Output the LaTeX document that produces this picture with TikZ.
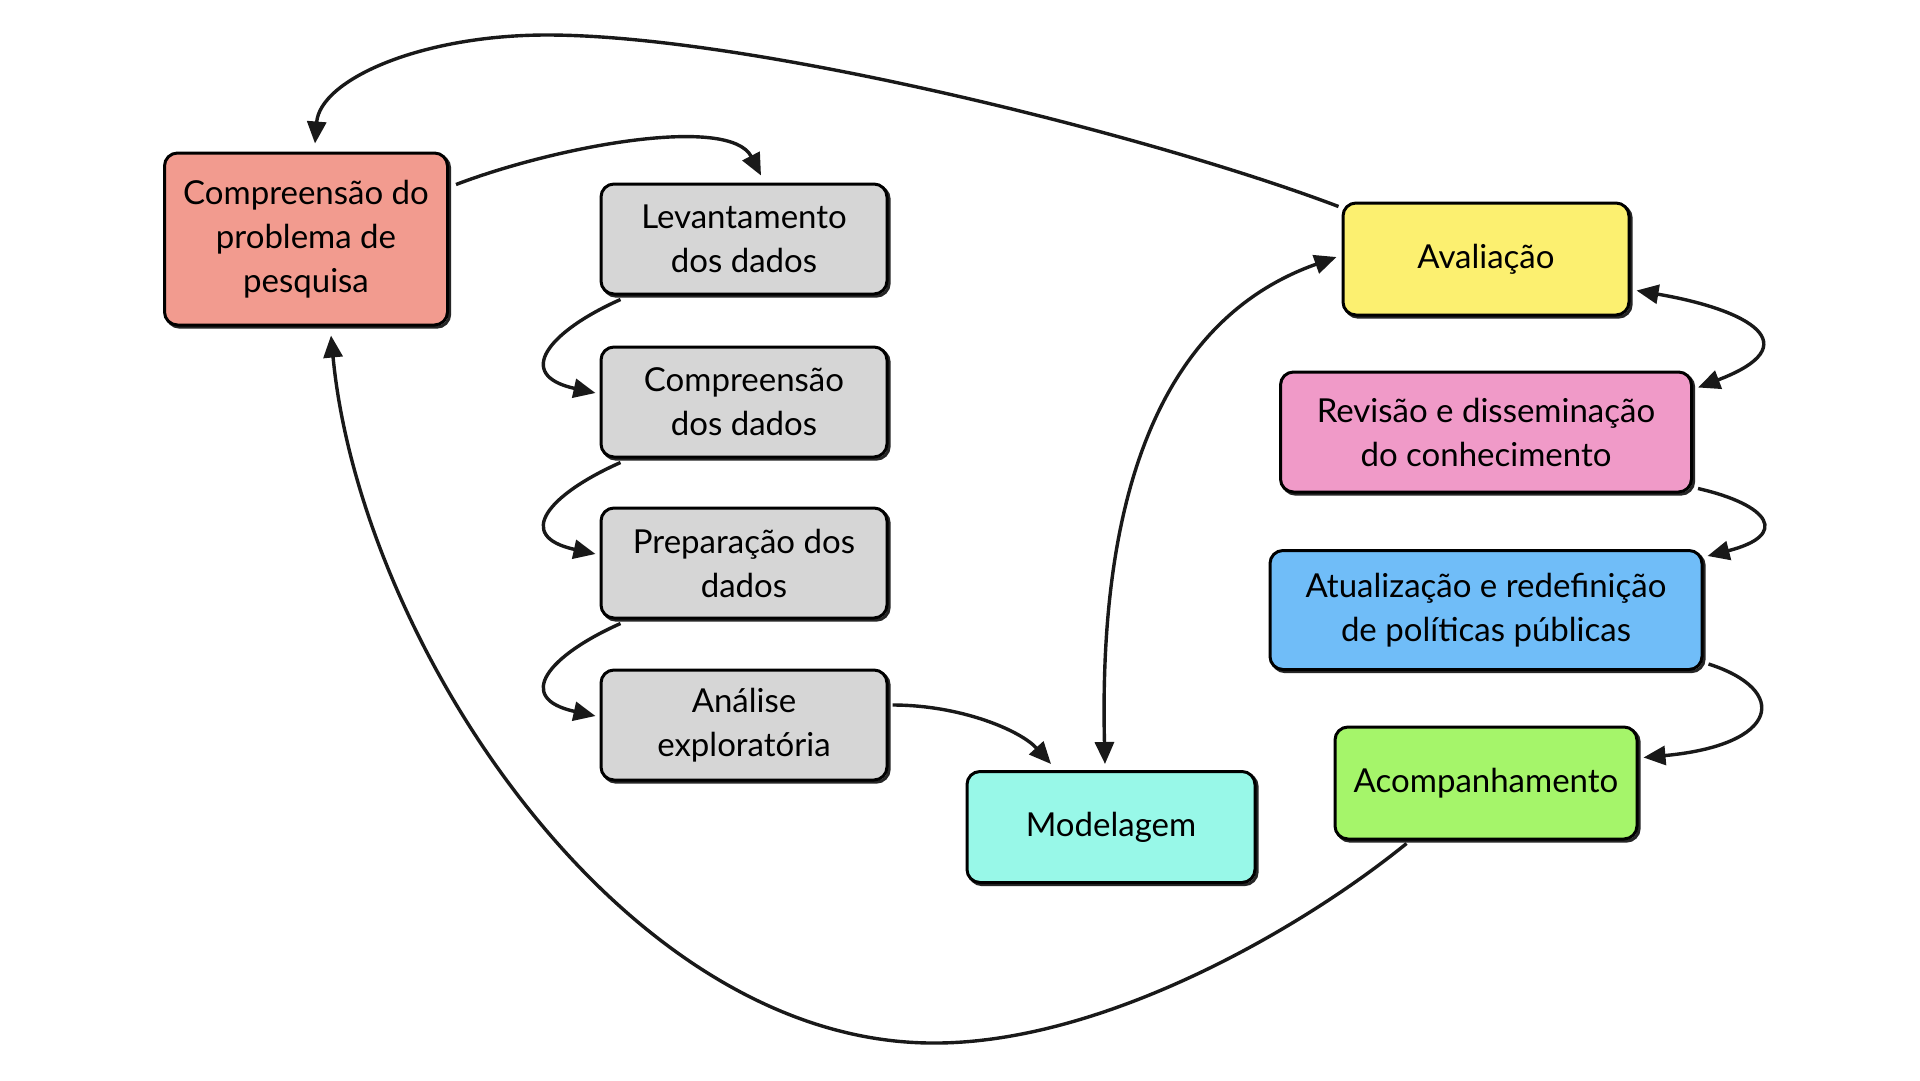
\documentclass[tikz,border=0pt]{standalone}
\usepackage{fontspec}
\setmainfont{Lato}
\usetikzlibrary{arrows.meta,calc}
\definecolor{cred}{HTML}{F29B8F}
\definecolor{cgray}{HTML}{D6D6D6}
\definecolor{cyellow}{HTML}{FCF070}
\definecolor{cpink}{HTML}{F09AC8}
\definecolor{cblue}{HTML}{70BDF8}
\definecolor{cgreen}{HTML}{A5F56A}
\definecolor{ccyan}{HTML}{98F8E8}
\begin{document}
\begin{tikzpicture}[x=1pt,y=-1pt,
  box/.style={draw=black, line width=3pt, rounded corners=13pt, align=center,
    inner sep=0pt, text=black, font=\fontsize{33}{44}\selectfont,
    preaction={draw=black!85, line width=3pt, transform canvas={shift={(2.2pt,-2.2pt)}}}},
  tip/.tip={Triangle[length=22pt,width=19pt]},
  conn/.style={draw=black!90, line width=3.4pt, -tip},
  conn2/.style={draw=black!90, line width=3.4pt, tip-tip}]
\useasboundingbox (0,0) rectangle (1920,1080);
\fill[white] (0,0) rectangle (1920,1080);

% nodes
\node[box, fill=cred, minimum width=283pt, minimum height=172pt] (red) at (306,239) {Compreensão do\\problema de\\pesquisa};
\node[box, fill=cgray, minimum width=286pt, minimum height=110pt] (lev) at (744,239) {Levantamento\\dos dados};
\node[box, fill=cgray, minimum width=286pt, minimum height=110pt] (comp) at (744,402) {Compreensão\\dos dados};
\node[box, fill=cgray, minimum width=286pt, minimum height=110pt] (prep) at (744,563) {Preparação dos\\dados};
\node[box, fill=cgray, minimum width=286pt, minimum height=110pt] (ana) at (744,725) {Análise\\exploratória};
\node[box, fill=ccyan, minimum width=288pt, minimum height=111pt] (mod) at (1111,827) {Modelagem};
\node[box, fill=cyellow, minimum width=286pt, minimum height=112pt] (aval) at (1486,259) {Avaliação};
\node[box, fill=cpink, minimum width=411pt, minimum height=120pt] (rev) at (1486,432) {Revisão e disseminação\\do conhecimento};
\node[box, fill=cblue, minimum width=432pt, minimum height=119pt] (atu) at (1486,610) {Atualização e redefinição\\de políticas públicas};
\node[box, fill=cgreen, minimum width=302pt, minimum height=112pt] (aco) at (1486,783) {Acompanhamento};

% connectors
\draw[conn] ($(red.north east)+(7,33)$) .. controls (560,145) and (730,115) .. ($(lev.north)+(17,-7)$);
\draw[conn] ($(aval.north west)+(-3,5)$) .. controls (1150,135) and (750,35) .. (547,35)
  .. controls (420,35) and (320,80) .. ($(red.north)+(9,-8)$);
\draw[conn] ($(lev.south west)+(21,4)$) .. controls +(-72,32) and +(-82,-18) .. ($(comp.west)+(-4,-9)$);
\draw[conn] ($(comp.south west)+(21,4)$) .. controls +(-72,32) and +(-82,-18) .. ($(prep.west)+(-4,-9)$);
\draw[conn] ($(prep.south west)+(21,4)$) .. controls +(-72,32) and +(-82,-18) .. ($(ana.west)+(-4,-9)$);
\draw[conn] ($(ana.east)+(4,-20)$) .. controls (960,705) and (1020,730) .. ($(mod.north)+(-60,-6)$);
\draw[conn2] ($(mod.north)+(-6,-6)$) .. controls (1100,560) and (1130,330) .. ($(aval.west)+(-5,-2)$);
\draw[conn2] ($(aval.south east)+(6,-26)$) .. controls (1750,310) and (1810,345) .. ($(rev.north east)+(5,17)$);
\draw[conn] ($(rev.south east)+(5,-5)$) .. controls (1770,505) and (1790,535) .. ($(atu.north east)+(4,7)$);
\draw[conn] ($(atu.south east)+(5,-7)$) .. controls (1790,690) and (1780,745) .. ($(aco.north east)+(5,32)$);
\draw[conn] ($(aco.south west)+(73,3)$) .. controls (1300,930) and (1100,1045) .. (930,1043)
  .. controls (620,1040) and (360,640) .. ($(red.south)+(25,9)$);
\end{tikzpicture}
\end{document}
